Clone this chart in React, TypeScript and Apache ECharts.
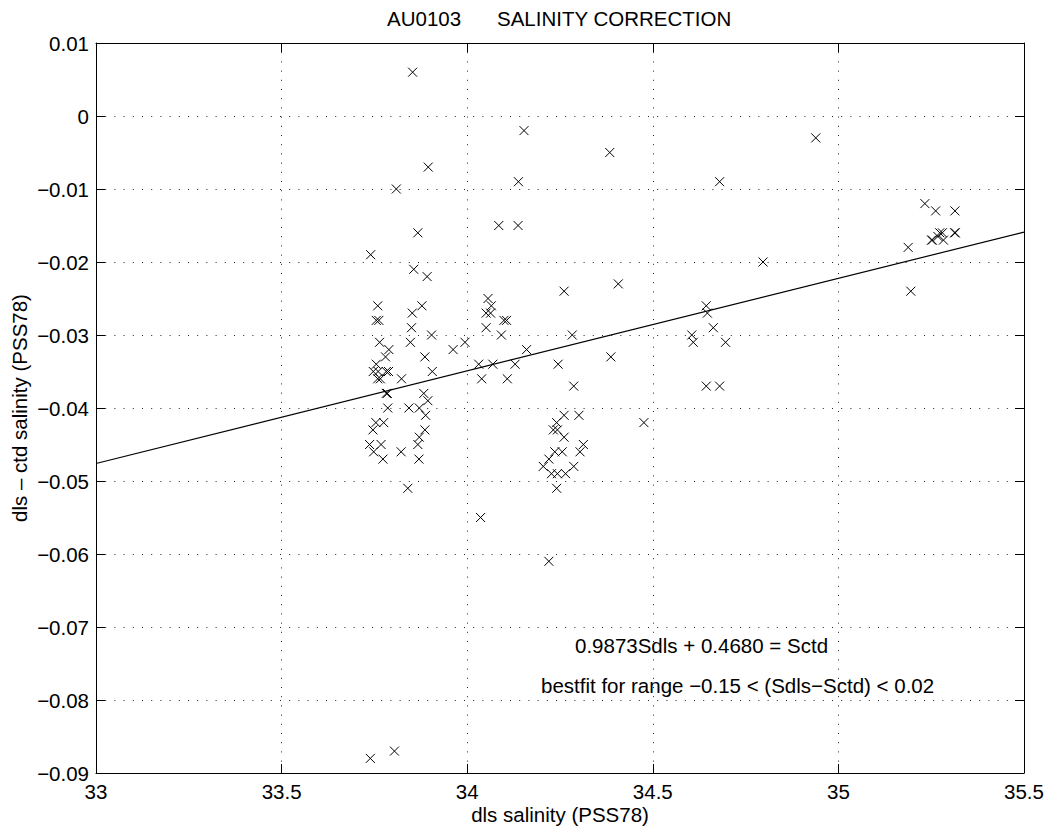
import React, { useEffect, useRef } from "react";
import * as echarts from "echarts";

// DLS salinity of each sample (PSS78)
const dlsSalinity = [
  33.853, 33.895, 33.809, 33.867, 33.74, 33.856, 33.892, 33.759, 33.878, 33.852,
  33.755, 33.762, 33.85, 33.904, 33.847, 33.764, 33.789, 33.962, 33.994, 33.78,
  33.886, 33.755, 33.747, 33.76, 33.782, 33.788, 33.759, 33.766, 33.823, 33.906,
  33.782, 33.785, 33.883, 33.894, 33.786, 33.843, 33.871, 33.888, 33.754, 33.775,
  33.746, 33.886, 33.871, 33.737, 33.768, 33.867, 33.748, 33.822, 33.773, 33.87,
  33.84, 33.739, 33.804,
  34.056, 34.065, 34.051, 34.063, 34.099, 34.106, 34.051, 34.092, 34.283, 34.407,
  34.261, 34.16, 34.387, 34.031, 34.069, 34.129, 34.245, 34.039, 34.108, 34.287,
  34.261, 34.301, 34.241, 34.232, 34.243, 34.261, 34.313, 34.304, 34.236, 34.256,
  34.22, 34.205, 34.287, 34.227, 34.243, 34.265, 34.241, 34.036, 34.22,
  34.153, 34.384, 34.138, 34.085, 34.137,
  34.68, 34.939, 34.797, 34.644, 34.647, 34.663, 34.605, 34.609, 34.696, 34.644,
  34.68, 34.476,
  35.233, 35.262, 35.314, 35.273, 35.28, 35.313, 35.315, 35.251, 35.253, 35.283,
  35.268, 35.188, 35.195,
];

// dls - ctd salinity difference for the same samples
const salinityDiff = [
  0.006, -0.007, -0.01, -0.016, -0.019, -0.021, -0.022, -0.026, -0.026, -0.027,
  -0.028, -0.028, -0.029, -0.03, -0.031, -0.031, -0.032, -0.032, -0.031, -0.033,
  -0.033, -0.034, -0.035, -0.035, -0.035, -0.035, -0.036, -0.036, -0.036, -0.035,
  -0.038, -0.038, -0.038, -0.039, -0.04, -0.04, -0.04, -0.041, -0.042, -0.042,
  -0.043, -0.043, -0.044, -0.045, -0.045, -0.045, -0.046, -0.046, -0.047, -0.047,
  -0.051, -0.088, -0.087,
  -0.025, -0.026, -0.027, -0.027, -0.028, -0.028, -0.029, -0.03, -0.03, -0.023,
  -0.024, -0.032, -0.033, -0.034, -0.034, -0.034, -0.034, -0.036, -0.036, -0.037,
  -0.041, -0.041, -0.042, -0.043, -0.043, -0.044, -0.045, -0.046, -0.046, -0.046,
  -0.047, -0.048, -0.048, -0.049, -0.049, -0.049, -0.051, -0.055, -0.061,
  -0.002, -0.005, -0.009, -0.015, -0.015,
  -0.009, -0.003, -0.02, -0.026, -0.027, -0.029, -0.03, -0.031, -0.031, -0.037,
  -0.037, -0.042,
  -0.012, -0.013, -0.013, -0.016, -0.016, -0.016, -0.016, -0.017, -0.017, -0.017,
  -0.0165, -0.018, -0.024,
];

// Best-fit line end points
const fitSalinity = [33, 35.5];
const fitDiff = [-0.0476, -0.0159];

// Axis ranges and tick steps
const xRange = [33, 35.5];
const xStep = 0.5;
const yRange = [-0.09, 0.01];
const yStep = 0.01;

const titleCruise = "AU0103";
const titleText = "SALINITY CORRECTION";
const xAxisTitle = "dls salinity (PSS78)";
const yAxisTitle = "dls \u2013 ctd salinity (PSS78)";
const fitEquation = "0.9873Sdls + 0.4680 = Sctd";
const fitRange = "bestfit for range \u22120.15 < (Sdls\u2212Sctd) < 0.02";

const FONT = "'Liberation Sans', Arial, Helvetica, sans-serif";
const FS = 20.5;

const fmtY = (v: number) => {
  if (Math.abs(v) < 1e-9) return "0";
  const s = Math.abs(v).toFixed(2);
  return v < 0 ? "\u2212" + s : s;
};
const fmtX = (v: number) => String(Math.round(v * 10) / 10);

export default function App() {
  const ref = useRef<HTMLDivElement>(null);

  useEffect(() => {
    if (!ref.current) return;
    const chart = echarts.init(ref.current, undefined, { renderer: "svg" });

    const points = dlsSalinity.map((x, i) => [x, salinityDiff[i]]);
    const fitLine = fitSalinity.map((x, i) => [x, fitDiff[i]]);

    const black = "#000";
    const dotted = { color: "#222", width: 1, type: [1, 8.2] as any };

    const baseX = {
      type: "value" as const,
      min: xRange[0],
      max: xRange[1],
      interval: xStep,
      axisLine: { show: true, onZero: false, lineStyle: { color: black, width: 1 } },
      axisTick: { show: true, inside: true, length: 9, lineStyle: { color: black, width: 1 } },
    };
    const baseY = {
      type: "value" as const,
      min: yRange[0],
      max: yRange[1],
      interval: yStep,
      axisLine: { show: true, onZero: false, lineStyle: { color: black, width: 1 } },
      axisTick: { show: true, inside: true, length: 9, lineStyle: { color: black, width: 1 } },
    };

    const textStyle = (size: number) => ({
      fill: black,
      fontSize: size,
      fontFamily: FONT,
    });

    chart.setOption({
      animation: false,
      backgroundColor: "#fff",
      grid: { left: 96, top: 43, width: 928, height: 730, containLabel: false },
      xAxis: [
        {
          ...baseX,
          position: "bottom",
          axisLabel: {
            color: black,
            fontSize: FS,
            fontFamily: FONT,
            margin: 8,
            formatter: fmtX,
          },
          splitLine: { show: true, lineStyle: dotted },
        },
        {
          ...baseX,
          position: "top",
          axisLabel: { show: false },
          splitLine: { show: false },
        },
      ],
      yAxis: [
        {
          ...baseY,
          position: "left",
          axisLabel: {
            color: black,
            fontSize: FS,
            fontFamily: FONT,
            margin: 7,
            formatter: fmtY,
          },
          splitLine: { show: true, lineStyle: dotted },
        },
        {
          ...baseY,
          position: "right",
          axisLabel: { show: false },
          splitLine: { show: false },
        },
      ],
      series: [
        {
          type: "line",
          xAxisIndex: 0,
          yAxisIndex: 0,
          data: fitLine,
          symbol: "none",
          lineStyle: { color: black, width: 1.2 },
          silent: true,
          z: 2,
        },
        {
          type: "scatter",
          xAxisIndex: 0,
          yAxisIndex: 0,
          data: points,
          symbol: "path://M0 0L10 10M10 0L0 10",
          symbolSize: 9,
          itemStyle: { color: "rgba(0,0,0,0)", borderColor: black, borderWidth: 1, opacity: 1 },
          z: 3,
        },
      ],
      graphic: [
        {
          type: "text",
          left: 387,
          top: 8,
          style: { ...textStyle(FS), text: titleCruise },
        },
        {
          type: "text",
          left: 497,
          top: 8,
          style: { ...textStyle(FS), text: titleText },
        },
        {
          type: "text",
          x: 560,
          y: 814,
          style: { ...textStyle(FS), text: xAxisTitle, textAlign: "center", textVerticalAlign: "middle" },
        },
        {
          type: "text",
          x: 19,
          y: 408,
          rotation: Math.PI / 2,
          style: { ...textStyle(FS), text: yAxisTitle, textAlign: "center", textVerticalAlign: "middle" },
        },
        {
          type: "text",
          x: 575,
          y: 645,
          style: { ...textStyle(FS), text: fitEquation, textAlign: "left", textVerticalAlign: "middle" },
        },
        {
          type: "text",
          x: 541,
          y: 685,
          style: { ...textStyle(FS), text: fitRange, textAlign: "left", textVerticalAlign: "middle" },
        },
      ],
    });

    return () => chart.dispose();
  }, []);

  return (
    <div
      ref={ref}
      style={{ position: "absolute", left: 0, top: 0, width: 1048, height: 829, background: "#fff" }}
    />
  );
}
